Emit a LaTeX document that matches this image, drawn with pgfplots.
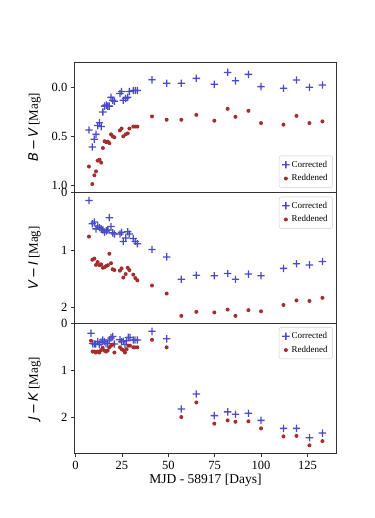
\documentclass[border=0pt]{standalone}
\usepackage{fontspec}
\setmainfont{Liberation Serif}
\newfontfamily\dejavu{DejaVu Sans}
\usepackage{pgfplots}
\usepackage{pgfplotstable}
\pgfplotsset{compat=1.18}
\usepgfplotslibrary{groupplots}
\definecolor{corrblue}{RGB}{75,75,200}
\definecolor{redd}{RGB}{165,45,45}

% filled marks with their colour set inside the mark itself
\pgfdeclareplotmark{bplus}{%
  \pgfsetfillcolor{corrblue}%
  \pgfpathrectangle{\pgfpoint{-\pgfplotmarksize}{-0.65pt}}{\pgfpoint{2\pgfplotmarksize}{1.3pt}}%
  \pgfpathrectangle{\pgfpoint{-0.65pt}{-\pgfplotmarksize}}{\pgfpoint{1.3pt}{2\pgfplotmarksize}}%
  \pgfusepathqfill}
\pgfdeclareplotmark{rdot}{%
  \pgfsetfillcolor{redd}%
  \pgfpathcircle{\pgfpointorigin}{\pgfplotmarksize}%
  \pgfusepathqfill}

% B-V
\pgfplotstableread{
t corr red
7.2 0.435 0.81
9.0 0.61 0.99
10.1 0.53 0.90
11.0 0.48 0.86
11.9 0.39 0.75
12.9 0.36 0.74
13.8 0.40 0.77
14.7 0.25 0.62
15.6 0.19 0.55
16.5 0.18 0.56
17.4 0.19 0.555
18.2 0.19 0.57
19.1 0.10 0.48
20.0 0.13 0.50
20.9 0.14 0.51
23.9 0.06 0.44
24.8 0.04 0.42
25.7 0.13 0.50
27.0 0.11 0.48
28.1 0.10 0.47
29.0 0.04 0.42
31.1 0.03 0.40
32.2 0.03 0.40
33.3 0.03 0.40
41.2 -0.08 0.296
49.1 -0.045 0.33
57.0 -0.045 0.33
65.1 -0.095 0.28
74.8 -0.034 0.34
82.0 -0.156 0.218
86.2 -0.07 0.30
93.2 -0.136 0.238
100.0 -0.01 0.364
112.1 0.007 0.38
119.1 -0.078 0.29
126.1 -0.003 0.364
133.1 -0.027 0.347
}\bvtab

% V-I
\pgfplotstableread{
t corr red
7.2 0.135 0.765
9.0 0.54 1.17
10.1 0.51 1.15
11.0 0.63 1.26
11.9 0.58 1.21
12.9 0.61 1.265
13.8 0.635 1.25
14.7 0.65 1.31
15.6 0.69 1.30
16.5 0.665 1.28
17.4 0.65 1.265
18.2 0.435 1.065
19.1 0.59 1.23
20.0 0.70 1.335
20.9 0.72 1.35
23.9 0.72 1.36
24.8 0.69 1.32
25.7 0.85 1.48
27.0 0.79 1.42
28.1 0.68 1.31
29.0 0.72 1.35
31.1 0.80 1.43
32.2 0.85 1.49
33.3 0.89 1.53
41.2 0.99 1.62
49.1 1.12 1.76
57.0 1.51 2.15
65.1 1.44 2.08
74.8 1.45 2.09
82.0 1.41 2.04
86.2 1.51 2.15
93.2 1.42 2.05
100.0 1.45 2.07
112.1 1.32 1.96
119.1 1.24 1.88
126.1 1.26 1.89
133.1 1.20 1.835
}\vitab

% J-K
\pgfplotstableread{
t corr red
8.3 0.21 0.37
9.2 0.43 0.60
10.1 0.44 0.60
10.9 0.44 0.62
11.9 0.39 0.60
12.8 0.45 0.62
13.7 0.40 0.57
14.6 0.355 0.52
15.5 0.39 0.58
16.4 0.43 0.60
17.3 0.43 0.58
18.2 0.355 0.51
19.1 0.31 0.475
20.0 0.28 0.45
20.9 0.44 0.62
23.9 0.35 0.51
24.8 0.39 0.55
25.7 0.38 0.57
26.6 0.45 0.62
27.5 0.37 0.55
28.4 0.30 0.475
29.3 0.30 0.475
31.1 0.355 0.51
32.0 0.355 0.51
33.3 0.355 0.51
41.2 0.17 0.35
49.1 0.33 0.51
57.0 1.82 1.99
65.1 1.50 1.68
74.8 1.96 2.13
82.0 1.88 2.06
86.2 1.93 2.09
93.2 1.91 2.08
100.0 2.06 2.23
112.1 2.23 2.40
119.1 2.23 2.39
126.1 2.43 2.59
133.1 2.33 2.50
}\jktab

\pgfplotsset{
  corrstyle/.style={only marks, mark=bplus, mark size=3.7pt, color=corrblue},
  reddstyle/.style={only marks, mark=rdot, mark size=2pt, color=redd},
}

\begin{document}
\begin{tikzpicture}
\begin{groupplot}[
  group style={group size=1 by 3, vertical sep=0pt},
  width=262.4pt, height=130.5pt, scale only axis,
  xmin=-0.7, xmax=140.8, y dir=reverse,
  tick pos=left, tick align=outside, major tick length=3.5pt,
  ticklabel style={font=\fontsize{12.5}{14}\selectfont},
  /pgf/number format/assume math mode=true,
  axis line style={black!80, line width=0.8pt},
  every tick/.style={black!80, line width=0.8pt},
  legend style={font=\fontsize{9}{10}\selectfont, draw=black!20, rounded corners=2pt,
    inner xsep=3pt, inner ysep=3pt, row sep=2pt},
  legend image code/.code={\draw[mark repeat=2, mark phase=2] plot coordinates {(0cm,0cm) (0.4cm,0cm) (0.8cm,0cm)};},
  legend cell align=left,
  every axis y label/.style={at={(axis description cs:-0.115,0.5)}, anchor=south,
    rotate=90, font=\fontsize{13}{15}\selectfont},
  every axis x label/.style={at={(axis description cs:0.5,0)}, anchor=north,
    yshift=-17pt, font=\fontsize{13.5}{15}\selectfont},
]
\nextgroupplot[xtick=\empty, ymin=-0.26, ymax=1.08, ytick={0,0.5,1},
  yticklabel style={/pgf/number format/fixed, /pgf/number format/fixed zerofill,
    /pgf/number format/precision=1},
  ylabel={{\dejavu\itshape B}\,{\dejavu −}\,{\dejavu\itshape V} [Mag]},
  legend style={at={(0.985,0.04)}, anchor=south east}]
\addplot[corrstyle] table[x=t,y=corr]{\bvtab};
\addplot[reddstyle] table[x=t,y=red]{\bvtab};
\legend{Corrected, Reddened}

\nextgroupplot[xtick=\empty, ymin=0, ymax=2.28, ytick={0,1,2},
  ylabel={{\dejavu\itshape V}\,{\dejavu −}\,{\dejavu\itshape I} [Mag]},
  legend style={at={(0.985,0.97)}, anchor=north east}]
\addplot[corrstyle] table[x=t,y=corr]{\vitab};
\addplot[reddstyle] table[x=t,y=red]{\vitab};
\legend{Corrected, Reddened}

\nextgroupplot[xtick={0,25,50,75,100,125}, ymin=0, ymax=2.77, ytick={0,1,2},
  ylabel={{\dejavu\itshape J}\,{\dejavu −}\,{\dejavu\itshape K} [Mag]},
  xlabel={MJD - 58917 [Days]},
  legend style={at={(0.985,0.97)}, anchor=north east}]
\addplot[corrstyle] table[x=t,y=corr]{\jktab};
\addplot[reddstyle] table[x=t,y=red]{\jktab};
\legend{Corrected, Reddened}
\end{groupplot}
\pgfresetboundingbox
\path[use as bounding box] ([shift={(-74.3pt,62.3pt)}]group c1r1.north west) rectangle ++(374pt,-518pt);
\end{tikzpicture}
\end{document}
